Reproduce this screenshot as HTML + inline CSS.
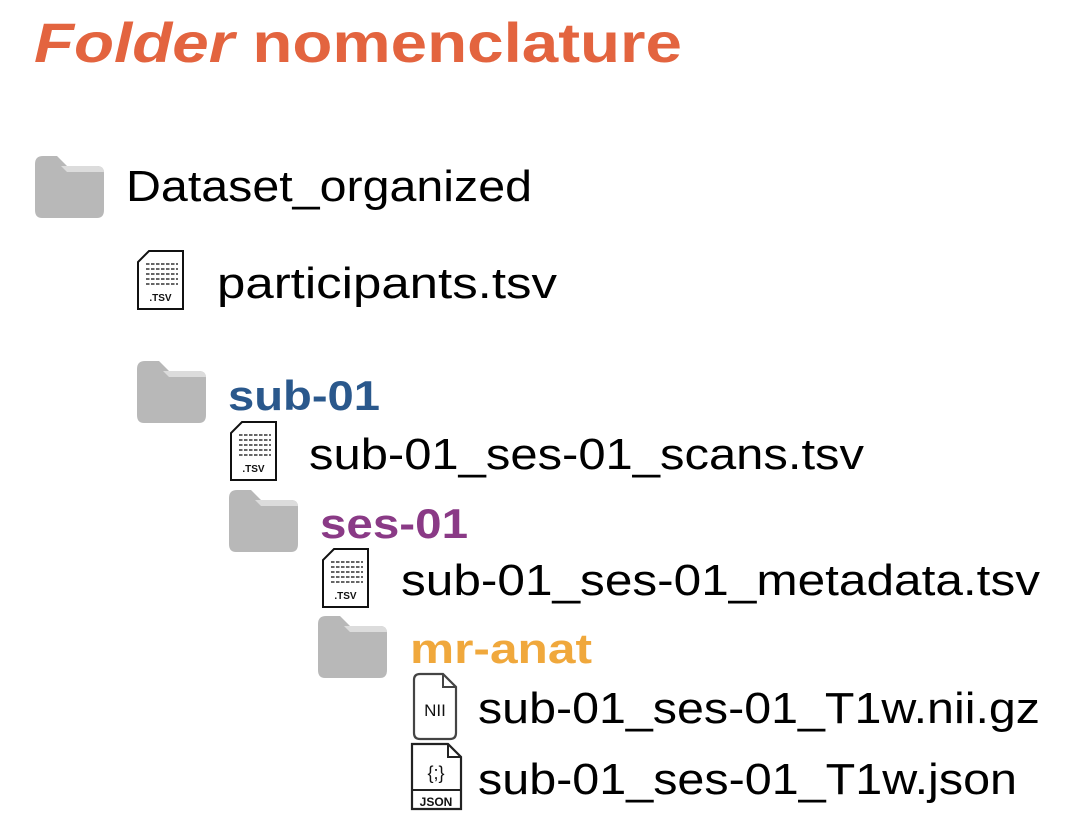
<!DOCTYPE html>
<html><head><style>html,body{margin:0;padding:0;background:#fff}svg{display:block}</style></head>
<body>
<svg width="1066" height="824" viewBox="0 0 1066 824" xmlns="http://www.w3.org/2000/svg" font-family="Liberation Sans, Arial, sans-serif">
<defs>
<g id="folder">
<path d="M0 8 Q0 0 8 0 H22 L32 10 H62 Q69 10 69 17 V54 Q69 62 62 62 H7 Q0 62 0 54 Z" fill="#b8b8b8"/>
<path d="M26 10 L32 16 H69 V17 Q69 10 62 10 Z" fill="#dcdcdc"/>
</g>
<g id="tsv">
<path d="M12 1 H46 V59 H1 V12 Z" fill="#fff" stroke="#111" stroke-width="2"/>
<g stroke="#333" stroke-width="1.6" stroke-dasharray="3.5 1.5">
<line x1="9" y1="14" x2="41" y2="14"/><line x1="9" y1="19" x2="41" y2="19"/>
<line x1="9" y1="24" x2="41" y2="24"/><line x1="9" y1="29" x2="41" y2="29"/>
<line x1="9" y1="34" x2="41" y2="34"/></g>
<text x="23.5" y="51" font-size="10" font-weight="bold" text-anchor="middle" fill="#111">.TSV</text>
</g>
</defs>
<text x="34" y="62" font-size="56" font-weight="bold" fill="#E3643F" textLength="648" lengthAdjust="spacingAndGlyphs"><tspan font-style="italic">Folder</tspan> nomenclature</text>

<use href="#folder" x="35" y="156"/>
<text x="126" y="201" font-size="44" fill="#000" textLength="406" lengthAdjust="spacingAndGlyphs">Dataset_organized</text>

<use href="#tsv" x="137" y="250"/>
<text x="217" y="298" font-size="44" fill="#000" textLength="340" lengthAdjust="spacingAndGlyphs">participants.tsv</text>

<use href="#folder" x="137" y="361"/>
<text x="228" y="410" font-size="42" font-weight="bold" fill="#2A588C" textLength="152" lengthAdjust="spacingAndGlyphs">sub-01</text>

<use href="#tsv" x="230" y="421"/>
<text x="309" y="469" font-size="44" fill="#000" textLength="555" lengthAdjust="spacingAndGlyphs">sub-01_ses-01_scans.tsv</text>

<use href="#folder" x="229" y="490"/>
<text x="320" y="538" font-size="42" font-weight="bold" fill="#8A3A86" textLength="148" lengthAdjust="spacingAndGlyphs">ses-01</text>

<use href="#tsv" x="322" y="548"/>
<text x="401" y="595" font-size="44" fill="#000" textLength="639" lengthAdjust="spacingAndGlyphs">sub-01_ses-01_metadata.tsv</text>

<use href="#folder" x="318" y="616"/>
<text x="410" y="663" font-size="42" font-weight="bold" fill="#F0A83C" textLength="182" lengthAdjust="spacingAndGlyphs">mr-anat</text>

<path d="M420 674 H443 L456 687 V733 Q456 739 450 739 H420 Q414 739 414 733 V680 Q414 674 420 674 Z" fill="#fff" stroke="#444" stroke-width="2.2"/>
<path d="M443 674 V687 H456" fill="none" stroke="#444" stroke-width="2"/>
<text x="435" y="716" font-size="17" text-anchor="middle" fill="#111">NII</text>
<text x="478" y="723" font-size="44" fill="#000" textLength="562" lengthAdjust="spacingAndGlyphs">sub-01_ses-01_T1w.nii.gz</text>

<path d="M412 744 H448 L461 757 V809 H412 Z" fill="#fff" stroke="#222" stroke-width="2.2"/>
<path d="M448 744 V757 H461" fill="none" stroke="#222" stroke-width="2"/>
<line x1="412" y1="790" x2="461" y2="790" stroke="#222" stroke-width="2"/>
<text x="436" y="779" font-size="18" text-anchor="middle" fill="#111">{;}</text>
<text x="436" y="806" font-size="12" font-weight="bold" text-anchor="middle" fill="#111">JSON</text>
<text x="478" y="794" font-size="44" fill="#000" textLength="539" lengthAdjust="spacingAndGlyphs">sub-01_ses-01_T1w.json</text>
</svg>
</body></html>
